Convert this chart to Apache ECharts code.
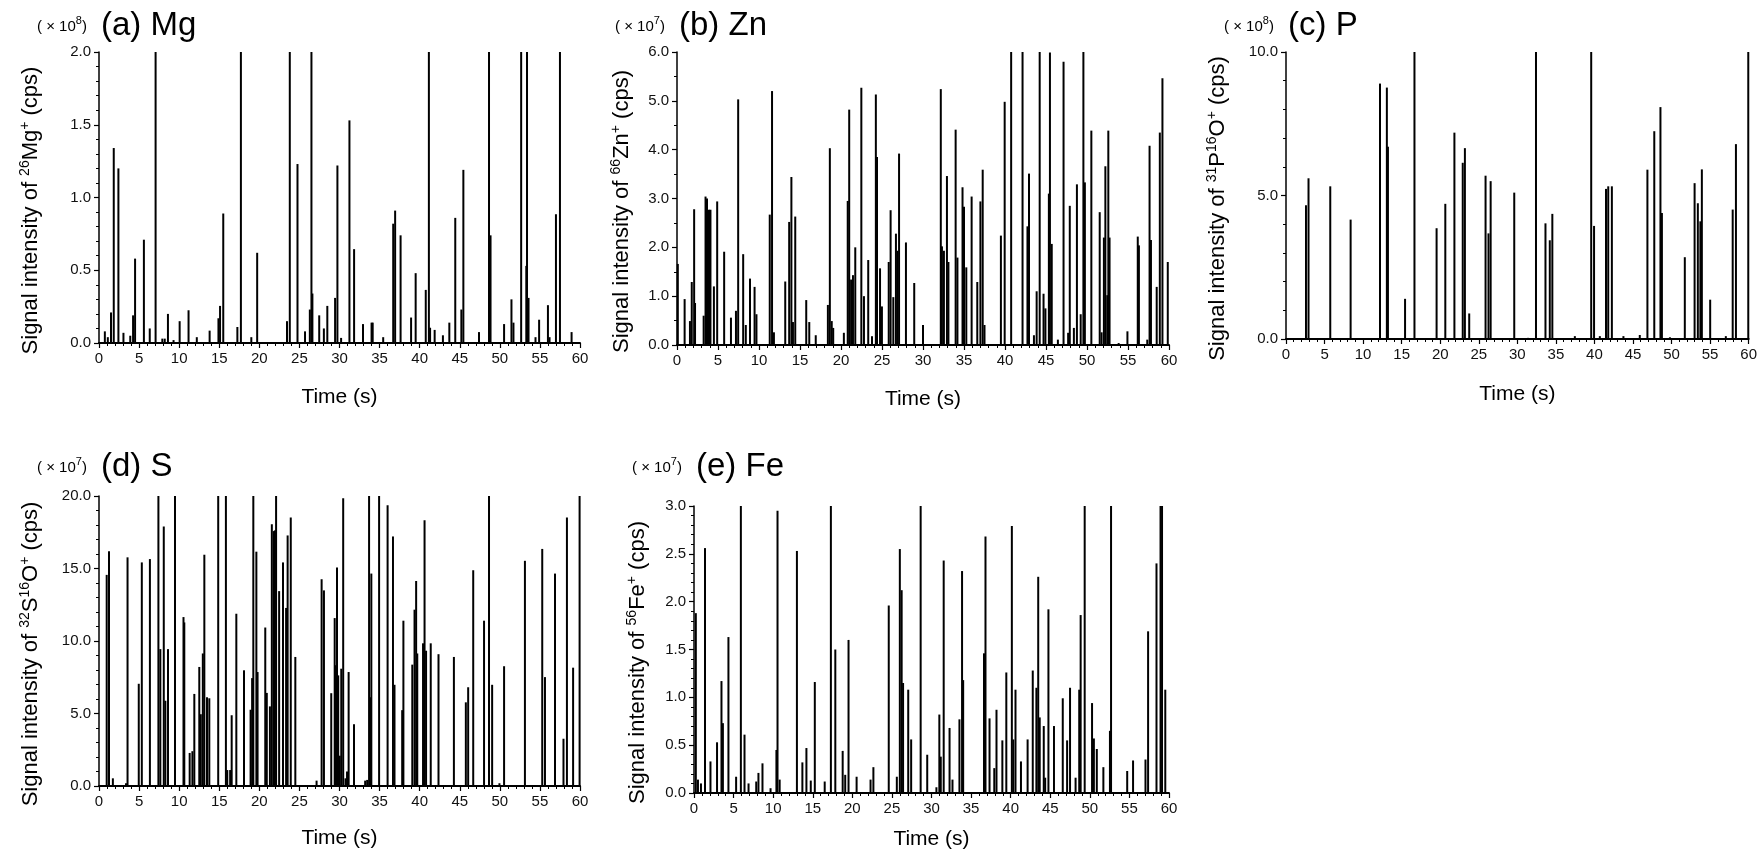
<!DOCTYPE html>
<html>
<head>
<meta charset="utf-8">
<script src="https://cdn.jsdelivr.net/npm/echarts@6/dist/echarts.min.js"></script>
<style>
html,body{margin:0;padding:0;background:#fff;}
#chart{width:1760px;height:853px;}
</style>
</head>
<body>
<div id="chart"></div>
<script>
// ---- DATA (time s, signal in displayed units) ----
const timeTicks = [0, 5, 10, 15, 20, 25, 30, 35, 40, 45, 50, 55, 60];

const mgSpikes = [[0.73,0.08],[1.1,0.04],[1.5,0.21],[1.84,1.34],[2.42,1.20],[3.05,0.07],[3.9,0.05],[4.25,0.19],[4.5,0.58],[5.6,0.71],[6.33,0.10],[7.06,2.0],[7.9,0.03],[8.2,0.03],[8.6,0.20],[9.3,0.02],[10.06,0.15],[11.17,0.225],[12.2,0.04],[13.8,0.085],[14.9,0.17],[15.1,0.255],[15.5,0.89],[17.26,0.11],[17.7,2.0],[19.0,0.04],[19.73,0.62],[23.45,0.15],[23.8,2.0],[24.76,1.23],[25.7,0.08],[26.3,0.23],[26.5,2.0],[26.62,0.34],[27.47,0.19],[28.05,0.10],[28.48,0.255],[29.45,0.31],[29.74,1.22],[30.2,0.035],[31.24,1.53],[31.82,0.645],[32.93,0.13],[34.0,0.14],[34.14,0.14],[35.45,0.04],[36.7,0.82],[36.94,0.91],[37.62,0.74],[38.93,0.175],[39.5,0.48],[40.76,0.365],[41.15,2.0],[41.3,0.105],[41.87,0.09],[42.9,0.053],[43.7,0.14],[44.44,0.86],[45.2,0.23],[45.45,1.19],[47.4,0.075],[48.65,2.0],[48.84,0.74],[50.53,0.13],[51.45,0.30],[51.7,0.14],[52.66,2.0],[53.3,0.53],[53.39,2.0],[53.58,0.31],[54.45,0.04],[54.9,0.16],[56.0,0.26],[56.2,0.04],[57.0,0.885],[57.5,2.0],[58.95,0.075]];

const znSpikes = [[0.1,1.66],[0.93,0.94],[1.58,0.49],[1.8,1.29],[2.09,2.78],[2.2,0.86],[3.25,0.6],[3.48,3.04],[3.66,3.0],[3.9,2.77],[4.08,2.77],[4.5,1.2],[4.9,2.94],[5.75,1.91],[6.58,0.56],[7.19,0.7],[7.46,5.03],[8.07,1.86],[8.39,0.41],[8.9,1.36],[9.46,1.19],[9.69,0.63],[11.31,2.67],[11.59,5.2],[11.82,0.26],[13.2,1.3],[13.68,2.52],[13.95,3.44],[14.14,0.47],[14.42,2.63],[15.76,0.92],[16.13,0.47],[16.92,0.2],[18.4,0.82],[18.64,4.03],[18.87,0.49],[19.05,0.35],[20.35,0.25],[20.82,2.95],[21.0,4.82],[21.23,1.34],[21.46,1.43],[21.74,2.0],[22.48,5.27],[22.8,1.0],[23.32,1.74],[23.78,0.18],[24.25,5.13],[24.39,3.85],[24.76,1.57],[24.99,0.79],[25.82,1.7],[26.05,2.76],[26.38,0.98],[26.7,2.28],[26.89,1.93],[27.08,3.92],[27.92,2.1],[28.93,1.27],[30.0,0.41],[32.17,5.24],[32.31,2.02],[32.55,1.93],[32.92,3.46],[33.1,1.7],[33.98,4.41],[34.2,1.79],[34.82,3.23],[35.0,2.83],[35.28,1.59],[35.93,3.04],[36.62,1.29],[37.0,2.94],[37.28,3.59],[37.5,0.41],[39.5,2.24],[39.96,4.98],[40.75,6.0],[42.14,6.0],[42.74,2.43],[42.93,3.51],[43.53,0.2],[43.86,1.1],[44.23,6.0],[44.7,1.05],[44.93,0.75],[45.35,3.1],[45.48,5.99],[45.7,2.07],[46.45,0.11],[47.14,5.8],[47.7,0.25],[47.9,2.85],[48.4,0.35],[48.77,3.29],[49.23,0.63],[49.56,6.0],[49.74,3.33],[50.53,4.39],[51.55,2.72],[51.78,0.26],[52.06,2.2],[52.24,3.66],[52.47,1.02],[52.6,4.39],[52.75,2.2],[53.86,0.04],[54.93,0.28],[56.19,2.22],[56.33,2.04],[57.35,0.11],[57.63,4.08],[57.8,2.15],[58.5,1.19],[58.88,4.35],[59.2,5.46],[59.85,1.7]];

const pSpikes = [[2.59,4.66],[2.92,5.6],[5.74,5.32],[8.38,4.16],[8.9,0.03],[12.19,8.9],[13.08,8.76],[13.22,6.7],[15.44,1.4],[16.66,10.0],[19.53,3.86],[20.66,4.71],[21.84,7.19],[22.92,6.14],[23.2,6.65],[23.76,0.89],[25.88,5.69],[26.26,3.68],[26.54,5.5],[29.6,5.1],[31.4,0.04],[32.42,10.0],[33.65,4.03],[34.21,3.44],[34.54,4.36],[37.46,0.1],[39.58,10.0],[39.95,3.94],[40.7,0.1],[41.5,5.23],[41.79,5.32],[42.26,5.32],[43.76,0.1],[45.88,0.14],[46.87,5.9],[47.76,7.24],[48.56,8.08],[48.75,4.39],[49.79,0.06],[51.72,2.85],[52.99,5.43],[53.41,4.73],[53.74,4.1],[53.93,5.91],[55.01,1.37],[57.04,0.1],[57.93,4.51],[58.35,6.79],[59.95,10.0]];

const sSpikes = [[0.96,14.56],[1.25,16.19],[1.73,0.53],[3.37,0.19],[3.56,15.77],[4.96,7.05],[5.34,15.42],[6.35,15.65],[7.41,20.0],[7.65,9.44],[8.08,17.9],[8.28,5.88],[8.61,9.44],[9.48,20.0],[10.54,11.65],[10.64,11.28],[11.31,2.28],[11.65,2.4],[11.89,6.35],[12.51,8.21],[12.7,4.95],[12.95,9.14],[13.14,15.95],[13.47,6.12],[13.76,6.05],[14.87,20.0],[15.83,20.0],[16.0,1.1],[16.36,1.1],[16.55,4.88],[17.13,11.88],[18.09,7.98],[18.91,5.26],[19.1,7.44],[19.25,20.0],[19.63,16.16],[19.78,7.86],[20.74,10.93],[20.93,6.42],[21.32,5.49],[21.56,18.05],[21.8,17.58],[21.94,17.63],[22.09,20.0],[22.47,13.44],[22.95,15.42],[23.34,12.28],[23.53,17.28],[23.92,18.51],[24.49,8.9],[27.14,0.37],[27.77,14.26],[28.06,13.49],[28.97,6.4],[29.4,11.58],[29.55,8.33],[29.69,15.07],[29.84,7.63],[30.03,2.09],[30.22,8.09],[30.46,19.84],[30.75,0.53],[30.94,1.0],[31.14,7.86],[31.81,4.26],[33.2,0.37],[33.45,0.42],[33.69,20.0],[33.83,6.12],[33.97,14.65],[34.94,20.0],[36.0,19.37],[36.67,17.21],[36.86,6.98],[37.82,5.23],[37.97,11.4],[39.08,8.37],[39.36,12.16],[39.56,14.14],[39.7,9.14],[40.42,9.84],[40.61,18.33],[40.8,9.33],[41.38,9.84],[42.35,9.09],[44.27,8.9],[45.76,5.77],[46.05,6.81],[46.68,14.88],[48.03,11.4],[48.65,20.0],[49.04,6.98],[49.95,0.19],[50.53,8.26],[53.13,15.53],[55.29,16.35],[55.63,7.51],[56.88,14.65],[57.94,3.26],[58.37,18.51],[59.14,8.16],[59.95,20.0]];

const feSpikes = [[0.23,1.88],[0.5,0.14],[0.88,0.1],[1.39,2.56],[2.08,0.33],[2.91,0.53],[3.47,1.17],[3.65,0.73],[4.35,1.63],[5.32,0.17],[5.92,3.0],[6.38,0.61],[6.89,0.1],[7.86,0.12],[8.14,0.21],[8.65,0.31],[9.67,0.05],[10.41,0.45],[10.55,2.95],[10.82,0.14],[13.0,2.53],[13.69,0.32],[14.2,0.47],[14.75,0.13],[15.26,1.16],[16.51,0.12],[17.29,3.0],[17.85,1.5],[18.78,0.44],[19.1,0.19],[19.52,1.6],[20.54,0.17],[22.3,0.14],[22.66,0.27],[24.6,1.96],[25.62,0.17],[26.0,2.55],[26.23,2.12],[26.41,1.15],[27.06,1.08],[27.43,0.56],[28.63,3.0],[29.46,0.4],[30.62,0.06],[30.99,0.82],[31.17,0.38],[31.54,2.43],[32.28,0.68],[32.65,0.14],[33.53,0.77],[33.86,2.32],[34.0,1.18],[36.63,1.46],[36.82,2.68],[37.33,0.78],[37.93,0.26],[38.21,0.87],[38.95,0.55],[39.45,1.26],[40.15,2.79],[40.33,0.56],[40.61,1.08],[41.3,0.33],[42.14,0.56],[42.79,1.28],[43.25,1.1],[43.48,2.26],[43.67,0.79],[44.18,0.7],[44.36,0.16],[44.77,1.92],[45.47,0.7],[46.58,0.99],[47.13,0.55],[47.5,1.1],[48.2,0.16],[48.66,1.08],[48.84,1.86],[49.35,3.0],[50.28,0.94],[50.51,0.57],[50.88,0.46],[51.71,0.27],[52.54,0.65],[52.68,3.0],[54.72,0.23],[55.46,0.34],[57.03,0.35],[57.36,1.69],[58.42,2.4],[58.93,3.0],[59.12,3.0],[59.53,1.08]];

// ---- panel definitions (text + axis) ----
const panels = [
  {title:'(a) Mg', exp:'8', iso:'26', el:'Mg', iso2:null, el2:null, max:2.0, interval:0.5, minor:5, data:mgSpikes,
   grid:{left:99, top:52, width:481, height:291}, titleX:101, expX:37, titleY:26, yNameX:30, timeGap:44},
  {title:'(b) Zn', exp:'7', iso:'66', el:'Zn', iso2:null, el2:null, max:6.0, interval:1.0, minor:2, data:znSpikes,
   grid:{left:677, top:52, width:492, height:293}, titleX:679, expX:615, titleY:26, yNameX:621, timeGap:44},
  {title:'(c) P', exp:'8', iso:'31', el:'P', iso2:'16', el2:'O', max:10.0, interval:5.0, minor:5, data:pSpikes,
   grid:{left:1286, top:52, width:464, height:287}, titleX:1288, expX:1224, titleY:26, yNameX:1217, timeGap:45},
  {title:'(d) S', exp:'7', iso:'32', el:'S', iso2:'16', el2:'O', max:20.0, interval:5.0, minor:5, data:sSpikes,
   grid:{left:99, top:496, width:481, height:290}, titleX:101, expX:37, titleY:467, yNameX:30, timeGap:42},
  {title:'(e) Fe', exp:'7', iso:'56', el:'Fe', iso2:null, el2:null, max:3.0, interval:0.5, minor:5, data:feSpikes,
   grid:{left:694, top:506, width:475, height:287}, titleX:696, expX:632, titleY:467, yNameX:637, timeGap:36}
];

const FONT = "'Liberation Sans', Arial, Helvetica, sans-serif";
const chart = echarts.init(document.getElementById('chart'), null, {renderer:'canvas'});

const grids = [], xAxes = [], yAxes = [], series = [], graphics = [];
panels.forEach((p, i) => {
  grids.push(Object.assign({containLabel:false}, p.grid));
  xAxes.push({
    type:'value', gridIndex:i, min:0, max:60, interval:5,
    axisLine:{show:true, onZero:false, lineStyle:{color:'#000', width:2}},
    axisTick:{show:true, inside:false, length:5, lineStyle:{color:'#000', width:1.2}},
    minorTick:{show:true, splitNumber:5, length:3, lineStyle:{color:'#000', width:1}},
    splitLine:{show:false}, minorSplitLine:{show:false},
    axisLabel:{color:'#111', fontFamily:FONT, fontSize:15, margin:8,
      formatter: v => timeTicks.indexOf(v) >= 0 ? String(v) : ''},
    name:'Time (s)', nameLocation:'middle', nameGap:p.timeGap,
    nameTextStyle:{color:'#000', fontFamily:FONT, fontSize:21}
  });
  yAxes.push({
    type:'value', gridIndex:i, min:0, max:p.max, interval:p.interval,
    axisLine:{show:true, lineStyle:{color:'#000', width:1.5}},
    axisTick:{show:true, inside:false, length:5, lineStyle:{color:'#000', width:1.2}},
    minorTick:{show:true, splitNumber:p.minor, length:3, lineStyle:{color:'#000', width:1}},
    splitLine:{show:false}, minorSplitLine:{show:false},
    axisLabel:{color:'#111', fontFamily:FONT, fontSize:15, margin:8, formatter: v => v.toFixed(1)}
  });
  series.push({
    type:'bar', xAxisIndex:i, yAxisIndex:i, data:p.data, barWidth:2,
    itemStyle:{color:'#000'}, silent:true, animation:false, clip:true
  });
  const gy = p.grid.top, gh = p.grid.height;
  // exponent label
  graphics.push({type:'text', left:p.expX, top:p.titleY-11, z:100, style:{
    text:'{p|( × 10}{s|' + p.exp + '}{p|)}',
    rich:{p:{fontSize:15, fontFamily:FONT, fill:'#000', lineHeight:19, verticalAlign:'bottom'},
          s:{fontSize:11, fontFamily:FONT, fill:'#000', lineHeight:19, verticalAlign:'top'}}
  }});
  // title
  graphics.push({type:'text', x:p.titleX, y:p.titleY, z:100, style:{
    text:p.title, fontSize:33, fontFamily:FONT, fill:'#000', align:'left', verticalAlign:'middle'}});
  // y axis name
  let txt = '{n|Signal intensity of }{s|' + p.iso + '}{n|' + p.el + '}';
  if (p.iso2) txt += '{s|' + p.iso2 + '}{n|' + p.el2 + '}';
  txt += '{s|+}{n| (cps)}';
  graphics.push({type:'text', x:p.yNameX, y:gy + gh/2 + 13, rotation:Math.PI/2, z:100, style:{
    text:txt, align:'center', verticalAlign:'middle',
    rich:{n:{fontSize:22, fontFamily:FONT, fill:'#000', lineHeight:28, verticalAlign:'bottom', padding:[0,0,2,0]},
          s:{fontSize:14, fontFamily:FONT, fill:'#000', lineHeight:28, verticalAlign:'top', padding:[2,0,0,0]}}
  }});
});

chart.setOption({
  animation:false,
  backgroundColor:'#fff',
  grid:grids, xAxis:xAxes, yAxis:yAxes, series:series, graphic:graphics
});
</script>
</body>
</html>
